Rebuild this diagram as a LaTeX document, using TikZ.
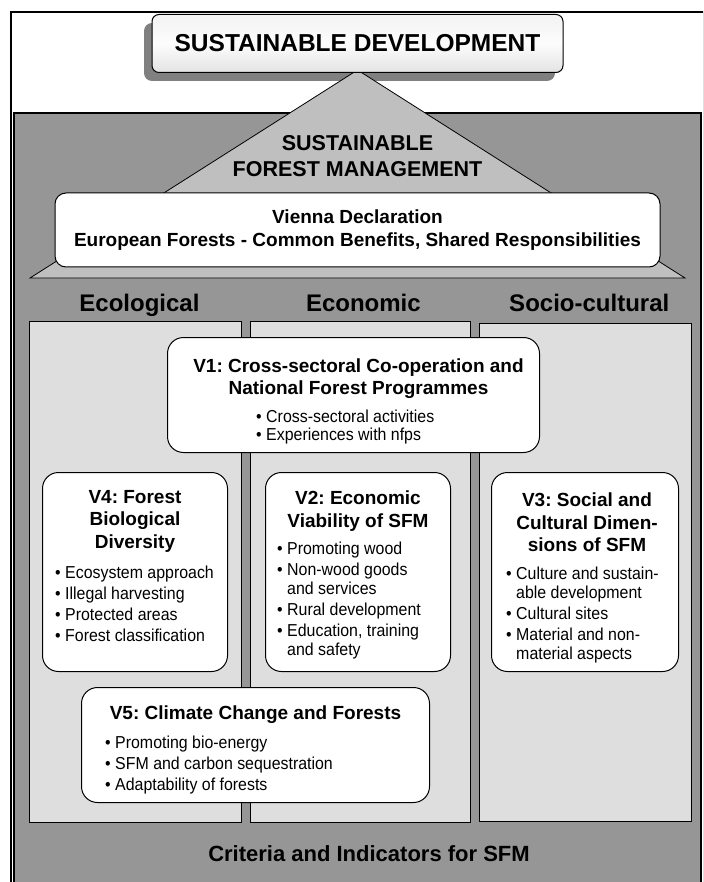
\documentclass[tikz,border=0pt]{standalone}
\usepackage{fontspec}
\setmainfont{Liberation Sans}
\newfontfamily\itemfont{Liberation Sans}[FakeStretch=0.92]
\usetikzlibrary{positioning}
\definecolor{sfmdark}{gray}{0.59}
\definecolor{sfmroof}{gray}{0.75}
\definecolor{sfmpillar}{gray}{0.87}
\definecolor{sfmshadow}{gray}{0.5}
\newcommand{\bul}{\makebox[0.58em][l]{\textbullet}}
\newcommand{\cont}{\hspace*{0.58em}}
\frenchspacing

\begin{document}
\begin{tikzpicture}[x=1pt,y=-1pt,
	vbox/.style={draw=black,line width=1pt,fill=white,rounded corners=16pt,anchor=north west,inner sep=0pt},
	vtitle/.style={inner sep=0pt,anchor=north,align=center,font=\bfseries\fontsize{19}{22.5}\selectfont},
	vitems/.style={inner sep=0pt,anchor=north west,align=left,font=\itemfont\fontsize{17.3}{19}\selectfont},
	pillar/.style={draw=black,line width=0.9pt,fill=sfmpillar,anchor=north west,inner sep=0pt,minimum height=501pt},
	heading/.style={inner sep=0pt,anchor=base,font=\bfseries\fontsize{24}{28}\selectfont}]
	\clip (0,0) rectangle (703,882);

	% frame and background
	\draw[line width=1.2pt] (11,12) rectangle (703.5,900);
	\draw[line width=1.8pt,fill=sfmdark] (14,113) rectangle (701,900);

	% roof
	\fill[sfmshadow,rounded corners=8pt] (144,23) rectangle (555,81);
	\coordinate (apex) at (357.5,70);
	\draw[fill=sfmroof,line width=0.8pt] (apex) -- (30,278) -- (685,278) -- cycle;
	\node [draw,line width=1pt,rounded corners=7pt,top color=gray!10,bottom color=gray!22,middle color=gray!2,
		minimum width=411pt,minimum height=58pt,inner sep=0pt,font=\bfseries\fontsize{24.5}{28}\selectfont] (sd) at (357.5,43.5) {SUSTAINABLE DEVELOPMENT};
	\node [inner sep=0pt,align=center,font=\bfseries\fontsize{21.5}{26}\selectfont] (sfm) at (357.5,156) {SUSTAINABLE\\FOREST MANAGEMENT};
	\node [draw,line width=1pt,fill=white,rounded corners=11pt,minimum width=605pt,minimum height=74pt,inner sep=0pt,
		align=center,font=\bfseries\fontsize{19}{23}\selectfont] (vienna) at (357.5,230) {Vienna Declaration\\European Forests - Common Benefits, Shared Responsibilities};

	% pillars
	\node [pillar,minimum width=212pt] (ecol) at (29,321) {};
	\node [pillar,minimum width=220pt,right=8pt of ecol] (econ) {};
	\node [pillar,minimum width=212pt,minimum height=498pt,right=8pt of econ] (soc) {};
	\node [heading] (hecol) at ([xshift=4pt,yshift=9.5pt]ecol.north) {Ecological};
	\node [heading] (hecon) at ([xshift=3pt,yshift=9.5pt]econ.north) {Economic};
	\node [heading] (hsoc) at ([xshift=4pt,yshift=11.5pt]soc.north) {Socio-cultural};

	% V1
	\node [vbox,minimum width=372pt,minimum height=115pt] (v1) at (167,337) {};
	\node [vtitle,font=\bfseries\fontsize{19}{21.5}\selectfont,below=22pt of v1.north,xshift=5pt] (v1t) {V1: Cross-sectoral Co-operation and\\National Forest Programmes};
	\node [vitems,font=\itemfont\fontsize{17.3}{18}\selectfont] (v1i) at ([xshift=89pt,yshift=-73pt]v1.north west) {\bul Cross-sectoral activities\\\bul Experiences with nfps};

	% V4
	\node [vbox,minimum width=185pt,minimum height=199pt] (v4) at (42,472) {};
	\node [vtitle,below=18pt of v4.north] (v4t) {V4: Forest\\Biological\\Diversity};
	\node [vitems] (v4i) at ([xshift=13pt,yshift=-94pt]v4.north west) {\bul Ecosystem approach\\[2pt]\bul Illegal harvesting\\[2pt]\bul Protected areas\\[2pt]\bul Forest classification};

	% V2
	\node [vbox,minimum width=185pt,minimum height=199pt] (v2) at (265,472) {};
	\node [vtitle,below=19pt of v2.north] (v2t) {V2: Economic\\Viability of SFM};
	\node [vitems] (v2i) at ([xshift=12pt,yshift=-70pt]v2.north west) {\bul Promoting wood\\[2pt]\bul Non-wood goods\\\cont and services\\[2pt]\bul Rural development\\[2pt]\bul Education, training\\\cont and safety};

	% V3
	\node [vbox,minimum width=187pt,minimum height=199pt] (v3) at (491,472) {};
	\node [vtitle,below=21pt of v3.north,xshift=2pt] (v3t) {V3: Social and\\Cultural Dimen-\\sions of SFM};
	\node [vitems] (v3i) at ([xshift=15pt,yshift=-95pt]v3.north west) {\bul Culture and sustain-\\\cont able development\\[2pt]\bul Cultural sites\\[2pt]\bul Material and non-\\\cont material aspects};

	% V5
	\node [vbox,minimum width=348pt,minimum height=115pt] (v5) at (81,687) {};
	\node [vtitle,below=19pt of v5.north] (v5t) {V5: Climate Change and Forests};
	\node [vitems] (v5i) at ([xshift=24pt,yshift=-49pt]v5.north west) {\bul Promoting bio-energy\\[2pt]\bul SFM and carbon sequestration\\[2pt]\bul Adaptability of forests};

	\node [inner sep=0pt,font=\bfseries\fontsize{22}{26}\selectfont] (ci) at (369,854) {Criteria and Indicators for SFM};
\end{tikzpicture}
\end{document}
